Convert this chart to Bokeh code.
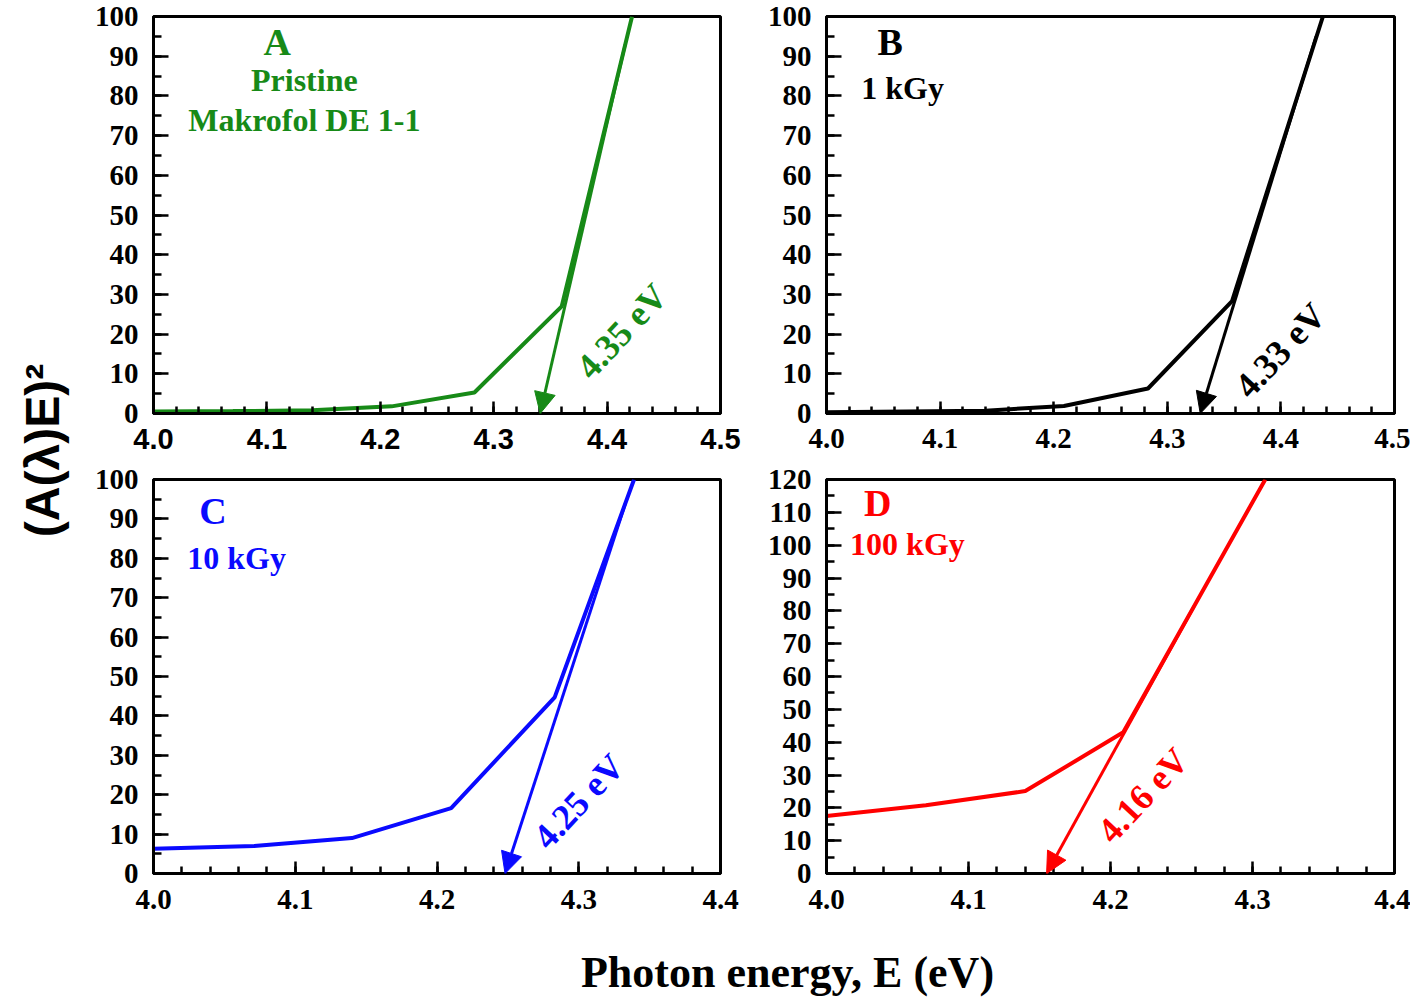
import numpy as np
from math import radians
from bokeh.plotting import figure
from bokeh.layouts import column, row
from bokeh.models import (Range1d, FixedTicker, Label, Arrow, NormalHead,
                          PrintfTickFormatter)
from bokeh.embed import file_html
from bokeh.resources import INLINE

# ---------------- data ----------------
# Panel A: pristine Makrofol DE 1-1
A_E = [4.0, 4.07, 4.14, 4.21, 4.283, 4.36, 4.422]
A_Y = [0.5, 0.6, 0.8, 1.8, 5.3, 27.0, 100.0]
A_TAN = [4.416, 93.0, 4.341]          # x_start, y_start, x_end (gap)
# Panel B: 1 kGy
B_E = [4.0, 4.07, 4.14, 4.209, 4.283, 4.357, 4.437]
B_Y = [0.3, 0.5, 0.7, 1.9, 6.3, 28.3, 100.0]
B_TAN = [4.431, 95.0, 4.329]
# Panel C: 10 kGy
C_E = [4.0, 4.071, 4.14, 4.21, 4.283, 4.339]
C_Y = [6.3, 7.0, 9.0, 16.6, 44.7, 100.0]
C_TAN = [4.333, 94.0, 4.248]
# Panel D: 100 kGy
D_E = [4.0, 4.07, 4.14, 4.209, 4.309]
D_Y = [17.5, 20.8, 25.1, 43.0, 120.0]
D_TAN = [4.259, 81.5, 4.155]

GAP_LABELS = ["4.35 eV", "4.33 eV", "4.25 eV", "4.16 eV"]
PANEL_LETTERS = ["A", "B", "C", "D"]

X_TICKS_AB = [4.0, 4.1, 4.2, 4.3, 4.4, 4.5]
X_TICKS_CD = [4.0, 4.1, 4.2, 4.3, 4.4]
Y_TICKS_ABC = list(range(0, 101, 10))
Y_TICKS_D = list(range(0, 121, 10))

GREEN = "#178a17"
BLUE = "#0a0aff"
RED = "#ff0000"
BLACK = "#000000"

SERIF = "Liberation Serif"
SANS = "Liberation Sans"

BB1 = 49                    # bottom border of top-row panels
BB2 = 53                    # bottom border of bottom-row panels
ROW1_TOP = 16
ROW1_H = ROW1_TOP + 397 + BB1
ROW2_TOP = 479 - ROW1_H
ROW2_H = ROW2_TOP + 394 + BB2
YLAB_W = 88
LEFT_W = 673
RIGHT_W = 649


def make_panel(width, height, xr, yr, xticks, yticks, border_top, border_right,
               border_bottom, standoff, xfont=SERIF):
    p = figure(width=width, height=height, x_range=Range1d(*xr), y_range=Range1d(*yr),
               output_backend="svg", toolbar_location=None,
               min_border_left=65, min_border_right=border_right,
               min_border_top=border_top, min_border_bottom=border_bottom)
    p.grid.visible = False
    p.outline_line_color = "black"
    p.outline_line_width = 3
    p.background_fill_color = "white"
    p.border_fill_color = "white"
    xminor = list(np.round(np.arange(xr[0], xr[1] + 1e-9, 0.02), 3))
    yminor = list(np.arange(yr[0], yr[1] + 0.1, 5))
    p.xaxis.ticker = FixedTicker(ticks=xticks, minor_ticks=xminor)
    p.yaxis.ticker = FixedTicker(ticks=yticks, minor_ticks=yminor)
    p.xaxis.formatter = PrintfTickFormatter(format="%.1f")
    for ax in (p.xaxis, p.yaxis):
        ax.axis_line_width = 3
        ax.axis_line_color = "black"
        ax.major_tick_line_width = 2.5
        ax.minor_tick_line_width = 2.5
        ax.major_tick_out = 0
        ax.minor_tick_out = 0
        ax.major_label_text_font_style = "bold"
        ax.major_label_text_color = "black"
        ax.major_label_text_font_size = "29px"
    p.xaxis.major_tick_in = 12
    p.xaxis.minor_tick_in = 7
    p.yaxis.major_tick_in = 15
    p.yaxis.minor_tick_in = 8
    p.xaxis.major_label_text_font = xfont
    p.yaxis.major_label_text_font = SERIF
    p.xaxis.major_label_standoff = standoff
    p.yaxis.major_label_standoff = 15
    return p


def add_text(p, x, y, text, color, size, angle=0.0, style="bold"):
    p.add_layout(Label(x=x, y=y, text=text, text_color=color, text_font=SERIF,
                       text_font_style=style, text_font_size=size,
                       text_align="center", text_baseline="middle",
                       angle=angle))


def add_tangent(p, tan, color):
    p.add_layout(Arrow(end=NormalHead(size=21, fill_color=color, line_color=color,
                                      line_width=1),
                       x_start=tan[0], y_start=tan[1], x_end=tan[2], y_end=0,
                       line_color=color, line_width=3))


ANG = radians(47)

# ---------- Panel A ----------
pA = make_panel(LEFT_W, ROW1_H, (4.0, 4.5), (0, 100), X_TICKS_AB, Y_TICKS_ABC,
                ROW1_TOP, 41, BB1, 15, xfont=SANS)
pA.line(A_E, A_Y, line_color=GREEN, line_width=4)
add_tangent(pA, A_TAN, GREEN)
add_text(pA, 4.109, 93.5, PANEL_LETTERS[0], GREEN, "38px")
add_text(pA, 4.133, 84.1, "Pristine", GREEN, "32px")
add_text(pA, 4.133, 74.0, "Makrofol DE 1-1", GREEN, "32px")
add_text(pA, 4.413, 20.7, GAP_LABELS[0], GREEN, "36px", ANG)

# ---------- Panel B ----------
pB = make_panel(RIGHT_W, ROW1_H, (4.0, 4.5), (0, 100), X_TICKS_AB, Y_TICKS_ABC,
                ROW1_TOP, 16, BB1, 15)
pB.line(B_E, B_Y, line_color=BLACK, line_width=4)
add_tangent(pB, B_TAN, BLACK)
add_text(pB, 4.056, 93.5, PANEL_LETTERS[1], BLACK, "38px")
add_text(pB, 4.067, 81.9, "1 kGy", BLACK, "32px")
add_text(pB, 4.3995, 15.9, GAP_LABELS[1], BLACK, "36px", ANG)

# ---------- Panel C ----------
pC = make_panel(LEFT_W, ROW2_H, (4.0, 4.4), (0, 100), X_TICKS_CD, Y_TICKS_ABC,
                ROW2_TOP, 41, BB2, 16)
pC.line(C_E, C_Y, line_color=BLUE, line_width=4)
add_tangent(pC, C_TAN, BLUE)
add_text(pC, 4.042, 91.9, PANEL_LETTERS[2], BLUE, "38px")
add_text(pC, 4.0586, 80.2, "10 kGy", BLUE, "32px")
add_text(pC, 4.300, 18.3, GAP_LABELS[2], BLUE, "36px", ANG)

# ---------- Panel D ----------
pD = make_panel(RIGHT_W, ROW2_H, (4.0, 4.4), (0, 120), X_TICKS_CD, Y_TICKS_D,
                ROW2_TOP, 16, BB2, 16)
pD.line(D_E, D_Y, line_color=RED, line_width=4)
add_tangent(pD, D_TAN, RED)
add_text(pD, 4.036, 112.7, PANEL_LETTERS[3], RED, "38px")
add_text(pD, 4.057, 100.5, "100 kGy", RED, "32px")
add_text(pD, 4.223, 23.8, GAP_LABELS[3], RED, "36px", ANG)

# ---------- shared axis titles ----------
YL_H = ROW1_H + ROW2_H
ylab = figure(width=YLAB_W, height=YL_H, x_range=Range1d(0, YLAB_W),
              y_range=Range1d(0, YL_H), x_axis_type=None, y_axis_type=None,
              output_backend="svg", toolbar_location=None, min_border=0)
ylab.grid.visible = False
ylab.outline_line_color = None
ylab.add_layout(Label(x=42, y=YL_H - 450, text="(A(λ)E)²", text_font=SANS,
                      text_font_style="bold", text_font_size="48px",
                      text_color="black", text_align="center",
                      text_baseline="middle", angle=radians(90)))

XL_W = YLAB_W + LEFT_W + RIGHT_W
XL_H = 997 - YL_H
xlab = figure(width=XL_W, height=XL_H, x_range=Range1d(0, XL_W),
              y_range=Range1d(0, XL_H), x_axis_type=None, y_axis_type=None,
              output_backend="svg", toolbar_location=None, min_border=0)
xlab.grid.visible = False
xlab.outline_line_color = None
xlab.add_layout(Label(x=787, y=XL_H - (972 - YL_H), text="Photon energy, E (eV)",
                      text_font=SERIF, text_font_style="bold",
                      text_font_size="44px", text_color="black",
                      text_align="center", text_baseline="middle"))

grid = column(row(pA, pB, spacing=0), row(pC, pD, spacing=0), spacing=0)
layout = column(row(ylab, grid, spacing=0), xlab, spacing=0)

open("out.html", "w").write(file_html(layout, INLINE))
